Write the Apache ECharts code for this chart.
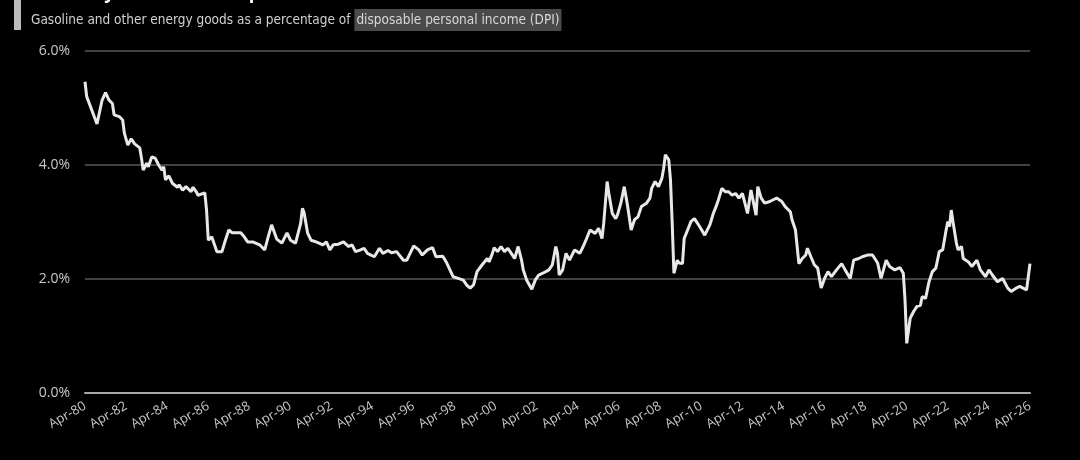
<!DOCTYPE html>
<html>
<head>
<meta charset="utf-8">
<script src="https://cdn.jsdelivr.net/npm/echarts@6/dist/echarts.min.js"></script>
<style>
html,body{margin:0;padding:0;background:#000;}
#chart{width:1080px;height:460px;}
</style>
</head>
<body>
<div id="chart"></div>
<script>
const dates1980s = ['1980-04','1980-05','1980-08','1980-11','1981-02','1981-04','1981-06','1981-08','1981-09','1981-12','1982-02','1982-03','1982-05','1982-07','1982-09','1982-12','1983-01','1983-02','1983-04','1983-05','1983-07','1983-09','1983-11','1984-01','1984-02','1984-03','1984-05','1984-07','1984-10','1984-11','1985-01','1985-03','1985-04','1985-06','1985-07','1985-09','1985-10','1986-02','1986-03','1986-04','1986-06','1986-08','1986-09','1986-12','1987-02','1987-04','1987-06','1987-11','1988-01','1988-03','1988-06','1988-10','1989-01','1989-03','1989-05','1989-08','1989-11'];
const values1980s = [5.46,5.20,4.96,4.72,5.14,5.27,5.14,5.08,4.88,4.85,4.79,4.56,4.35,4.46,4.37,4.30,4.12,3.91,4.03,3.97,4.14,4.12,4.00,3.91,3.97,3.74,3.81,3.68,3.61,3.65,3.56,3.62,3.65,3.53,3.61,3.53,3.47,3.51,3.21,2.68,2.74,2.57,2.48,2.48,2.68,2.86,2.81,2.81,2.74,2.65,2.65,2.60,2.51,2.74,2.95,2.70,2.63];

const dates1990s = ['1990-02','1990-04','1990-07','1990-10','1990-11','1990-12','1991-02','1991-04','1991-07','1991-11','1992-01','1992-03','1992-05','1992-08','1992-11','1993-02','1993-04','1993-06','1993-09','1993-11','1994-01','1994-02','1994-05','1994-08','1994-10','1995-01','1995-03','1995-06','1995-10','1995-12','1996-04','1996-07','1996-09','1996-12','1997-03','1997-05','1997-09','1997-11','1998-03','1998-06','1998-09','1998-11','1999-01','1999-03','1999-05','1999-08','1999-11','1999-12'];
const values1990s = [2.81,2.68,2.63,2.98,3.24,3.16,2.81,2.68,2.65,2.60,2.65,2.51,2.60,2.61,2.65,2.57,2.60,2.48,2.51,2.54,2.45,2.48,2.39,2.54,2.45,2.50,2.46,2.48,2.33,2.33,2.58,2.51,2.42,2.51,2.55,2.39,2.40,2.30,2.04,2.01,1.98,1.89,1.84,1.90,2.13,2.25,2.36,2.30];

const dates2000s = ['2000-02','2000-03','2000-05','2000-07','2000-09','2000-11','2001-01','2001-03','2001-05','2001-07','2001-08','2001-10','2002-01','2002-03','2002-05','2002-08','2002-11','2003-01','2003-03','2003-04','2003-05','2003-07','2003-09','2003-11','2004-02','2004-05','2004-07','2004-09','2004-11','2005-02','2005-04','2005-06','2005-07','2005-09','2005-10','2005-12','2006-02','2006-03','2006-05','2006-07','2006-09','2006-11','2007-01','2007-03','2007-05','2007-08','2007-10','2007-11','2008-01','2008-03','2008-05','2008-06','2008-07','2008-09','2008-10','2008-11','2008-12','2009-02','2009-03','2009-05','2009-06','2009-08','2009-10','2009-12'];
const values2000s = [2.45,2.55,2.48,2.57,2.48,2.54,2.45,2.36,2.57,2.33,2.16,1.98,1.82,1.98,2.07,2.11,2.16,2.25,2.57,2.45,2.07,2.16,2.45,2.33,2.51,2.45,2.57,2.71,2.86,2.80,2.89,2.71,2.98,3.71,3.50,3.15,3.06,3.12,3.33,3.62,3.27,2.86,3.04,3.09,3.27,3.33,3.42,3.59,3.71,3.62,3.77,3.94,4.18,4.09,3.74,2.98,2.10,2.33,2.28,2.27,2.71,2.86,3.01,3.06];

const dates2010s = ['2010-03','2010-06','2010-09','2010-11','2011-01','2011-02','2011-04','2011-06','2011-08','2011-10','2011-12','2012-02','2012-04','2012-06','2012-07','2012-09','2012-10','2012-12','2013-01','2013-03','2013-05','2013-08','2013-10','2013-12','2014-03','2014-05','2014-08','2014-09','2014-11','2015-01','2015-03','2015-05','2015-06','2015-08','2015-10','2015-12','2016-02','2016-04','2016-06','2016-08','2016-11','2017-02','2017-04','2017-07','2017-09','2017-12','2018-02','2018-05','2018-08','2018-09','2018-11','2019-01','2019-04','2019-06','2019-09','2019-12'];
const values2010s = [2.92,2.77,2.95,3.15,3.30,3.39,3.59,3.53,3.53,3.47,3.50,3.42,3.50,3.27,3.15,3.56,3.59,3.12,3.62,3.42,3.33,3.36,3.39,3.42,3.36,3.27,3.18,3.04,2.86,2.27,2.36,2.42,2.54,2.39,2.25,2.19,1.84,2.01,2.13,2.04,2.16,2.27,2.16,2.01,2.33,2.36,2.39,2.42,2.42,2.40,2.28,2.01,2.33,2.22,2.16,2.20];

const dates2020s = ['2020-02','2020-03','2020-04','2020-06','2020-08','2020-10','2020-12','2021-01','2021-03','2021-05','2021-07','2021-09','2021-11','2022-01','2022-03','2022-04','2022-05','2022-06','2022-07','2022-09','2022-10','2022-12','2023-01','2023-04','2023-06','2023-09','2023-11','2024-02','2024-04','2024-06','2024-09','2024-12','2025-03','2025-05','2025-08','2025-10','2025-12','2026-02','2026-03','2026-04'];
const values2020s = [2.10,1.63,0.87,1.31,1.43,1.52,1.54,1.69,1.66,1.95,2.13,2.19,2.48,2.51,2.86,3.01,2.92,3.21,3.01,2.63,2.51,2.57,2.36,2.30,2.22,2.33,2.16,2.04,2.16,2.07,1.95,2.01,1.84,1.78,1.84,1.87,1.84,1.81,2.04,2.27];

const xTickLabels = ['Apr-80','Apr-82','Apr-84','Apr-86','Apr-88','Apr-90','Apr-92','Apr-94','Apr-96','Apr-98','Apr-00','Apr-02','Apr-04','Apr-06','Apr-08','Apr-10','Apr-12','Apr-14','Apr-16','Apr-18','Apr-20','Apr-22','Apr-24','Apr-26'];
const yTicks = [0, 2, 4, 6];

const titleText = 'currently at 2.3% as of April 2026';
const subtitlePlain = 'Gasoline and other energy goods as a percentage of ';
const subtitleHighlight = 'disposable personal income (DPI)';

const allDates = [].concat(dates1980s, dates1990s, dates2000s, dates2010s, dates2020s);
const allValues = [].concat(values1980s, values1990s, values2000s, values2010s, values2020s);
function monthIndex(s) {
  const p = s.split('-').map(Number);
  return (p[0] - 1980) * 12 + (p[1] - 4);
}
const seriesData = allDates.map((d, i) => [monthIndex(d), allValues[i]]);

const subFont = '"DejaVu Sans Condensed", "Liberation Sans Narrow", sans-serif';
const chart = echarts.init(document.getElementById('chart'));
chart.setOption({
  backgroundColor: '#000',
  animation: false,
  grid: { left: 85, right: 50, top: 51, bottom: 67 },
  graphic: [
    { type: 'rect', shape: { x: 14, y: 0, width: 7, height: 30 }, style: { fill: '#bdbdbd' } },
    { type: 'text', left: 31, top: -15, style: { text: titleText, fill: '#ffffff', font: 'bold 18px "Open Sans", sans-serif' } },
    { type: 'text', left: 31, top: 9, style: {
        text: '{a|' + subtitlePlain + '}{b|' + subtitleHighlight + '}',
        rich: {
          a: { fill: '#d0d0d0', fontSize: 13.5, fontFamily: subFont },
          b: { fill: '#d8d8d8', fontSize: 13.5, fontFamily: subFont, backgroundColor: '#4a4a4a', padding: [4, 2, 4, 2] }
        }
      } }
  ],
  xAxis: {
    type: 'value', min: 0, max: 552, interval: 24,
    axisLine: { show: true, lineStyle: { color: '#a8a8a8', width: 2 } },
    axisTick: { show: false },
    splitLine: { show: false },
    axisLabel: {
      rotate: 30, margin: 12, color: '#c8c8c8', fontSize: 13, fontFamily: '"Open Sans", sans-serif',
      formatter: v => xTickLabels[Math.round(v / 24)] || ''
    }
  },
  yAxis: {
    type: 'value', min: yTicks[0], max: yTicks[yTicks.length - 1], interval: 2,
    axisLine: { show: false }, axisTick: { show: false },
    splitLine: { lineStyle: { color: '#5a5a5a', width: 1.5 } },
    axisLabel: { margin: 15, color: '#c8c8c8', fontSize: 14, fontFamily: '"Open Sans", sans-serif',
      formatter: v => v.toFixed(1) + '%' }
  },
  series: [{
    type: 'line', data: seriesData, showSymbol: false, symbol: 'none',
    lineStyle: { color: '#e8e8e8', width: 3 }, z: 5
  }]
});
</script>
</body>
</html>
